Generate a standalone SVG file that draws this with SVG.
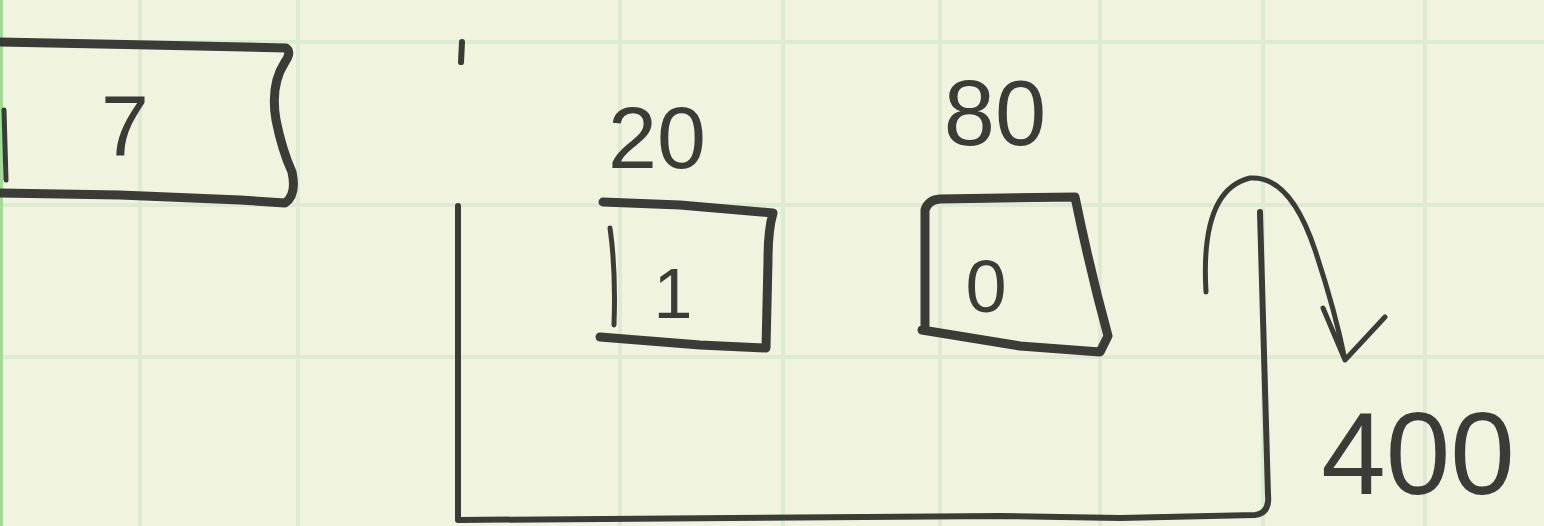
<svg xmlns="http://www.w3.org/2000/svg" width="1544" height="526" viewBox="0 0 1544 526">
<style>
.ink{fill:none;stroke:#3b3b38;stroke-linecap:round;stroke-linejoin:round}
.box{stroke-width:9}
.thin{stroke-width:5}
.grid{stroke:#dcebd2;stroke-width:4;fill:none}
.hand{font-family:"Liberation Sans",Arial,sans-serif;fill:#3b3b38;text-anchor:middle}
</style>
<defs/>
<rect width="1544" height="526" fill="#f0f4df"/>
<g id="grid">
<path class="grid" d="M140 0V526M298 0V526M620 0V526M783 0V526M940 0V526M1100 0V526M1263 0V526M1425 0V526M0 42H1544M0 205H1544M0 357H1544"/>
<rect x="0" y="0" width="3" height="526" fill="#9fdc98"/>
</g>
<g id="node-7">
<path class="ink box" d="M0 42 L150 45 L286 48 Q292 52 285 62 Q270 85 276 120 Q282 150 292 172 Q297 195 285 203 L240 200 L120 195 L0 193"/>
<path class="ink thin" d="M4 110 L6 180"/>
<text class="hand" x="125" y="155" font-size="86">7</text>
</g>
<g id="node-1">
<path class="ink box" d="M603 202 L680 205 L773 213 Q768 230 768 260 L766 348 L700 345 L600 337"/>
<path class="ink thin" d="M610 228 Q616 270 614 325"/>
<text class="hand" x="673" y="318" font-size="70">1</text>
<text class="hand" x="657" y="168" font-size="88">20</text>
</g>
<g id="node-0">
<path class="ink box" d="M925 330 L925 210 Q928 200 940 199 L1075 197 Q1090 270 1108 336 L1100 352 L1020 346 L922 330"/>
<text class="hand" x="986" y="312" font-size="74">0</text>
<text class="hand" x="995" y="145" font-size="92">80</text>
</g>
<g id="connectors">
<path class="ink" stroke-width="6" d="M462 42 L461 62 M458 206 L458 520 L1000 516 L1120 518 L1255 515 Q1270 513 1268 495 L1260 212"/>
<path class="ink thin" d="M1206 292 Q1200 190 1250 178 Q1290 175 1315 250 Q1335 310 1345 360 M1323 308 L1345 360 L1385 317"/>
</g>
<g id="label-400">
<text class="hand" x="1418" y="494" font-size="116">400</text>
</g>
</svg>
